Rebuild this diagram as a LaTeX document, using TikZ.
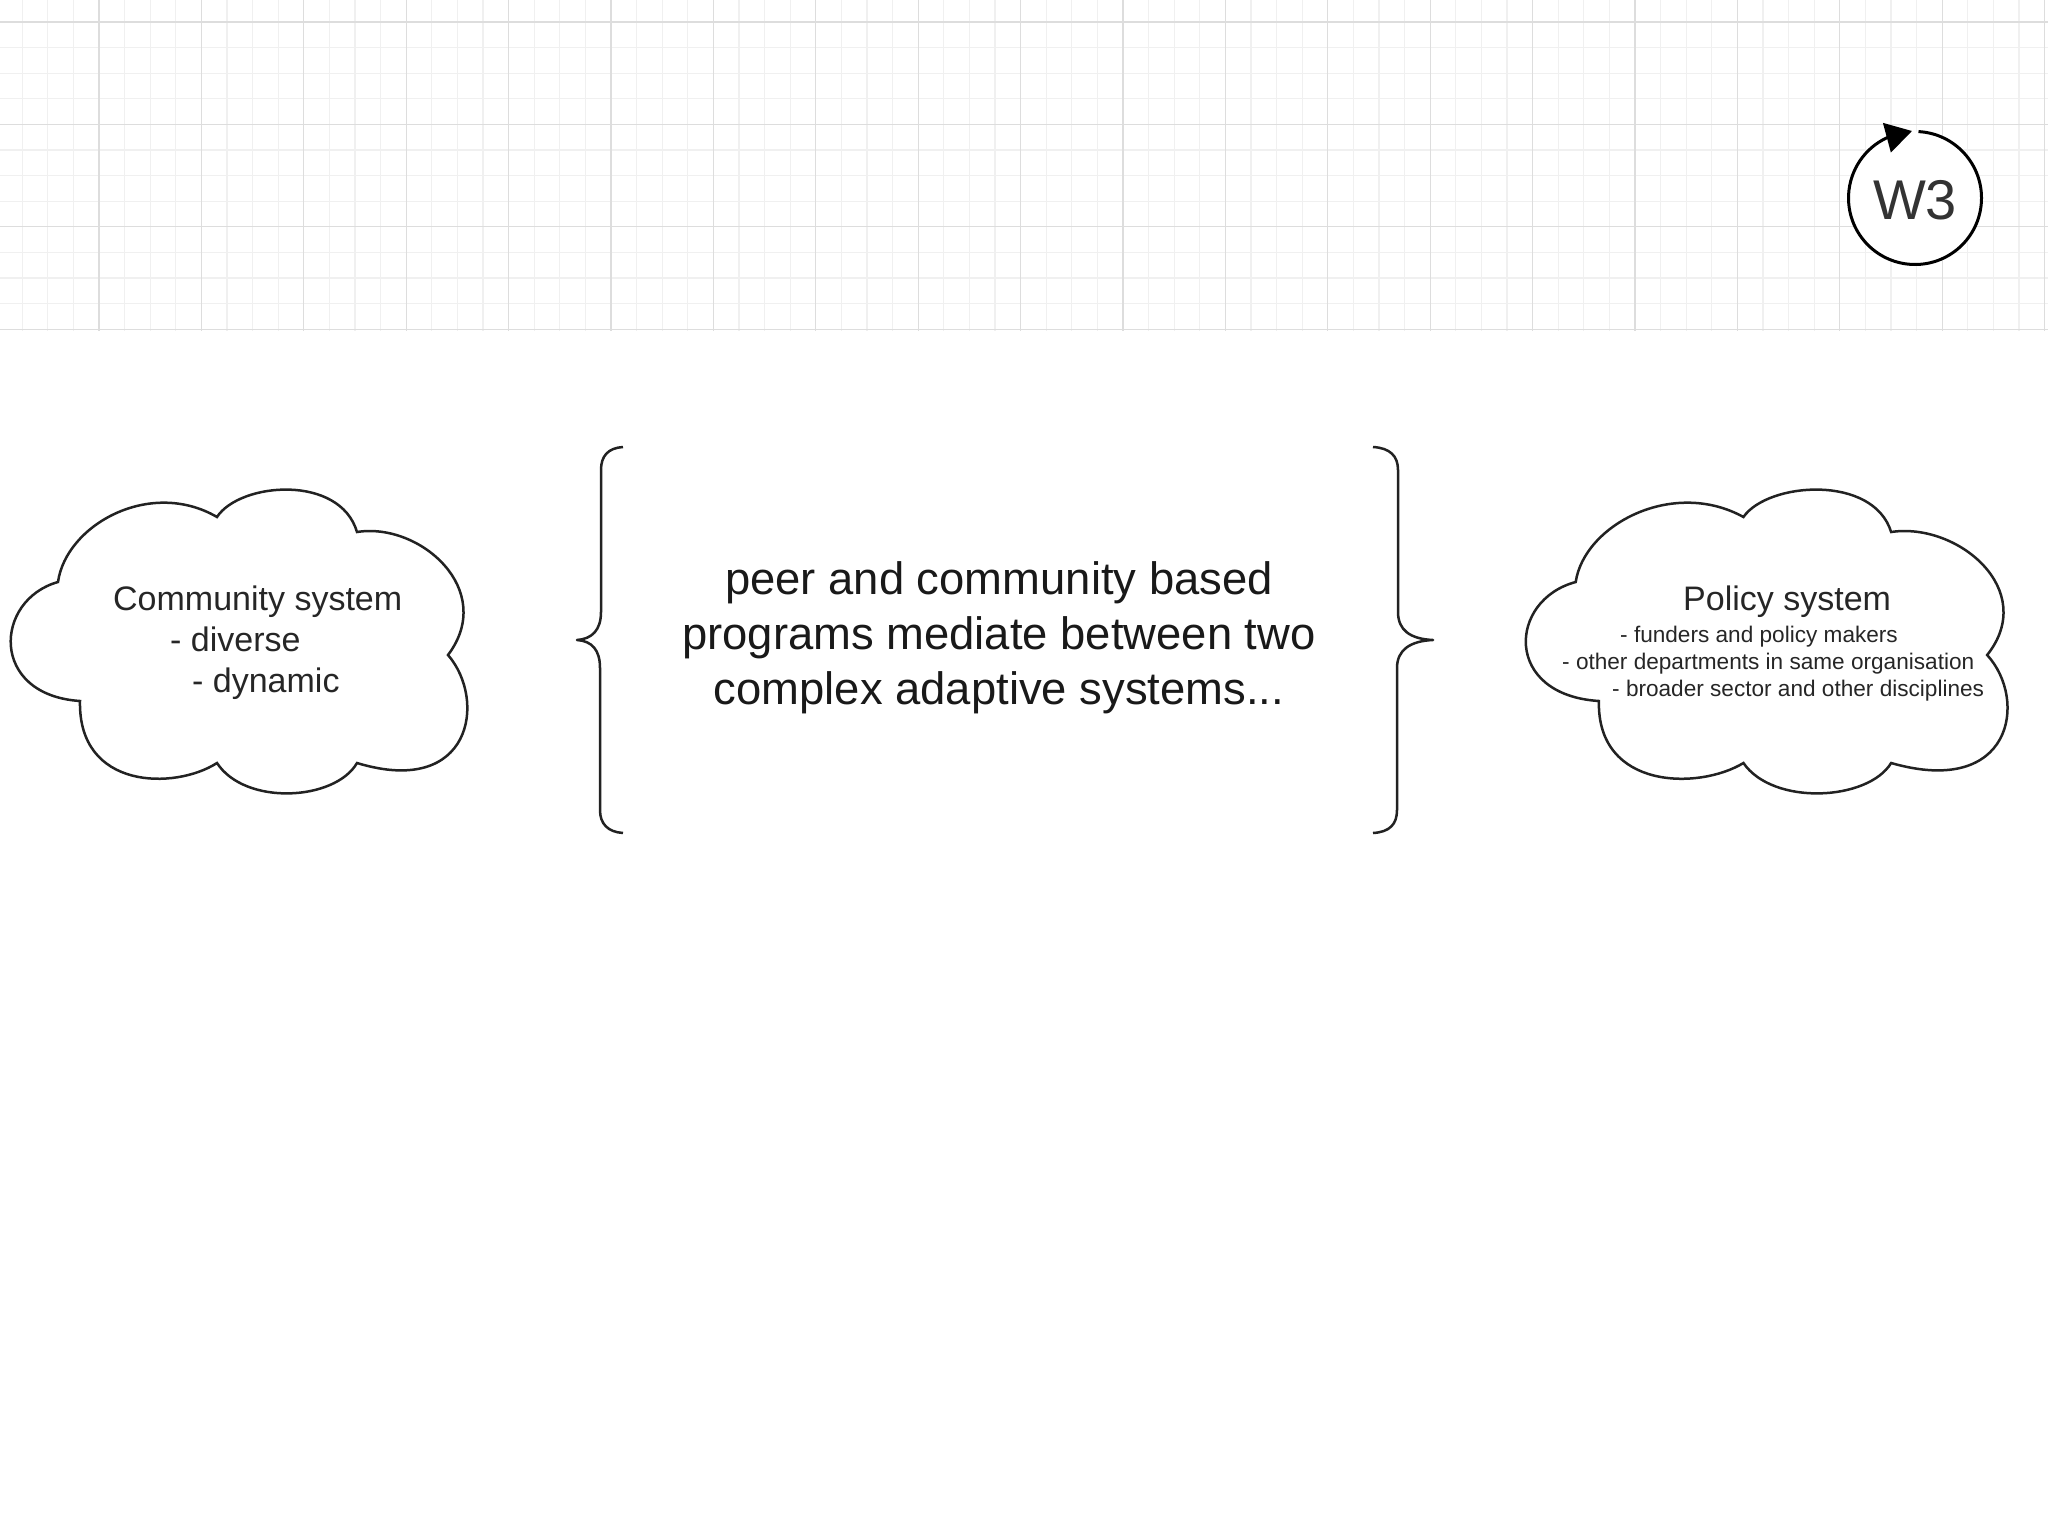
\documentclass[tikz,border=0pt]{standalone}
\usepackage{fontspec}
\setmainfont{Liberation Sans}
\usetikzlibrary{arrows.meta, positioning}
\definecolor{gridmajor}{HTML}{DDDDDD}
\definecolor{gridminor}{HTML}{F0F0F0}
\definecolor{inkline}{HTML}{222222}
\tikzset{%
    minorline/.style = {draw=gridminor, line width=1.3pt},
    majorline/.style = {draw=gridmajor, line width=1.3pt},
    cloudline/.style = {draw=inkline, line width=2.5pt, fill=white},
    braceline/.style = {draw=inkline, line width=2.5pt, line join=round},
    looparrow/.style = {draw=black, line width=3pt,
        -{Triangle[length=26pt, width=30pt]}},
    bigtext/.style = {align=center, text=black!90, font=\fontsize{45.4pt}{55pt}\selectfont},
    cloudtitle/.style = {anchor=base west, text=black!85, font=\fontsize{34pt}{38pt}\selectfont, inner sep=0pt},
    cloudsmall/.style = {anchor=base west, text=black!85, font=\fontsize{22.6pt}{27pt}\selectfont, inner sep=0pt},
}
\newcommand{\cloudpath}{(58,582) .. controls (66,525) and (150,478) .. (217,517)
    .. controls (240,482) and (340,474) .. (357,532)
    .. controls (420,522) and (497,590) .. (448,655)
    .. controls (487,700) and (472,798) .. (357,763)
    .. controls (335,801) and (245,806) .. (217,763)
    .. controls (175,790) and (78,790) .. (80,701)
    .. controls (-11,695) and (-6,600) .. (58,582) -- cycle}

\begin{document}
\begin{tikzpicture}[x=1pt, y=-1pt]
    \useasboundingbox (0,0) rectangle (2048,1536);
    % grid paper
    \foreach \k in {0,...,79} {
        \path [minorline] (22.2+25.6*\k,0) -- (22.2+25.6*\k,331);
    }
    \foreach \k in {0,...,12} {
        \path [minorline] (0,22+25.6*\k) -- (2048,22+25.6*\k);
    }
    \foreach \k in {0,...,19} {
        \path [majorline] (99+102.4*\k,0) -- (99+102.4*\k,331);
    }
    \foreach \k in {0,...,3} {
        \path [majorline] (0,22+102.4*\k) -- (2048,22+102.4*\k);
    }
    % the marker
    \node [circle, fill=white, minimum size=133pt, inner sep=0pt, outer sep=0pt,
        text height=44pt, text=black!80, font=\fontsize{56pt}{56pt}\selectfont] (marker) at (1915,198) {W3};
    \coordinate (looptip) at (1912,131);
    \path [looparrow] (marker.87) arc [start angle=87, end angle=-245, radius=66.5pt] -- (looptip);
    % clouds
    \path [cloudline] \cloudpath;
    \begin{scope}[shift={(1514.5,0)}, xscale=1.055]
        \path [cloudline] \cloudpath;
    \end{scope}
    \node [cloudtitle] (community) at (113,610) {Community system};
    \node [cloudtitle] (diverse) at (170,651) {- diverse};
    \node [cloudtitle] (dynamic) at (192,692) {- dynamic};
    \node [cloudtitle] (policy) at (1683,610) {Policy system};
    \node [cloudsmall] (funders) at (1620,642) {- funders and policy makers};
    \node [cloudsmall] (departments) at (1562,669) {- other departments in same organisation};
    \node [cloudsmall] (sector) at (1612,696) {- broader sector and other disciplines};
    % middle
    \node [bigtext] (mediate) at (999,638) {peer and community based\\programs mediate between two\\complex adaptive systems...};
    \path [braceline] (623,447) .. controls (608,448) and (601,456) .. (601,470) -- (601,612)
        .. controls (601,630) and (592,639) .. (577,640)
        .. controls (592,641) and (600,650) .. (600,668) -- (600,810)
        .. controls (600,824) and (608,832) .. (623,833);
    \path [braceline] (1373,447) .. controls (1390,448) and (1398,456) .. (1398,470) -- (1398,612)
        .. controls (1398,630) and (1410,639) .. (1433,640)
        .. controls (1410,641) and (1397,650) .. (1397,668) -- (1397,810)
        .. controls (1397,824) and (1390,832) .. (1373,833);
\end{tikzpicture}
\end{document}
